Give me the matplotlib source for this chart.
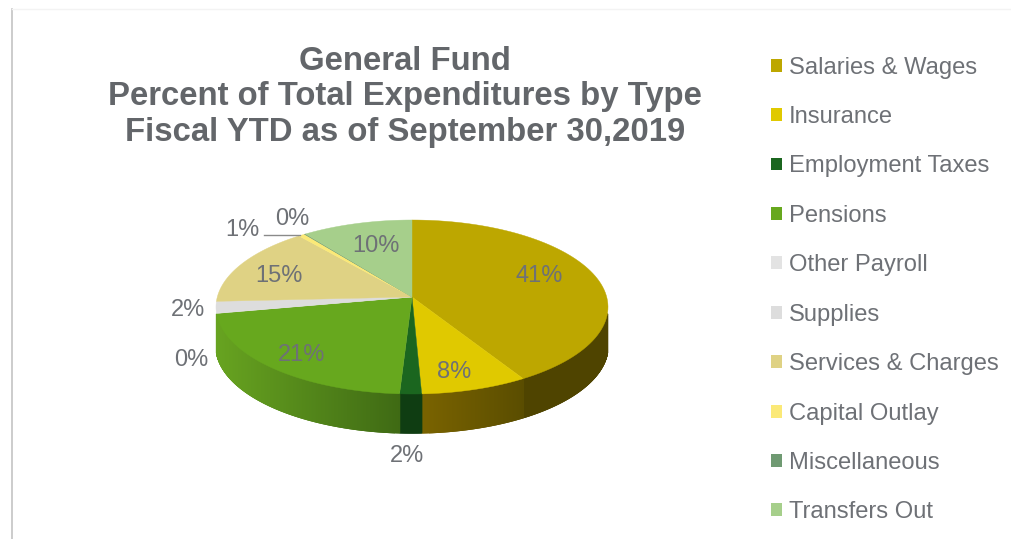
import numpy as np
import matplotlib
matplotlib.use('Agg')
import matplotlib.pyplot as plt
from matplotlib.patches import Patch

plt.rcParams['font.family'] = ['Liberation Sans', 'DejaVu Sans']

categories = ['Salaries & Wages', 'Insurance', 'Employment Taxes', 'Pensions', 'Other Payroll',
              'Supplies', 'Services & Charges', 'Capital Outlay', 'Miscellaneous', 'Transfers Out']
percent = [41.4, 7.9, 1.6, 21.1, 0.1, 2.1, 14.9, 0.6, 0.1, 10.2]
top_colors = ['#BDA700', '#E0C900', '#1B661F', '#67A81E', '#E3E3E3',
              '#DDDDDD', '#DFD284', '#FBE977', '#6F9A72', '#A6CF8B']
wall_left = ['#4F4400', '#7A6300', '#0F3D12', '#67A320', '#B0B0B0',
             '#B0B0B0', '#A09560', '#B0A050', '#4F7050', '#7A9A66']
wall_right = ['#4F4400', '#5A4D00', '#0F3D12', '#3F6A14', '#B0B0B0',
              '#B0B0B0', '#A09560', '#B0A050', '#4F7050', '#7A9A66']
label_pos = [(539, 276), (454, 372), (407, 456), (302, 355), (191, 360),
             (188, 310), (279, 276), (242, 230), (292, 219), (376, 246)]

text_color = '#6E7176'
title_lines = ['General Fund', 'Percent of Total Expenditures by Type', 'Fiscal YTD as of September 30,2019']
title_y = [62, 97, 132]

# pie plane seen in perspective
cx, cy = 412, 297
rx, ry, persp = 194.7, 85.85, 0.115
depth = 39


def rim(angle):
    u, v = np.sin(angle), np.cos(angle)
    w = 1 + persp * v
    return cx + rx * u / w, cy - ry * v / w


def hex_rgb(c):
    return np.array(matplotlib.colors.to_rgb(c))


fig = plt.figure(figsize=(10.11, 5.39), dpi=100)
ax = fig.add_axes([0, 0, 1, 1])
ax.set_xlim(0, 1011)
ax.set_ylim(539, 0)
ax.axis('off')

# page edges
ax.plot([11.5, 11.5], [9, 539], color='#C4C4C4', lw=1.2)
ax.plot([11.5, 1011], [9, 9], color='#F3F3F3', lw=1)

edges = np.cumsum([0] + percent) / sum(percent) * 2 * np.pi

# side wall, shaded strip by strip, then the top face over it
for i in range(len(percent)):
    ts = np.linspace(edges[i], edges[i + 1], max(int((edges[i + 1] - edges[i]) * 400), 2))
    ts = ts[np.cos(ts) <= -0.19]  # only the front of the rim shows
    if len(ts) < 2 or percent[i] < 0.5:
        continue
    xs, ys = rim(ts)
    # colour runs left to right on the front of the wedge
    lo, hi = xs.min(), xs.max()
    for j in range(len(ts) - 1):
        f = (0.5 * (xs[j] + xs[j + 1]) - lo) / max(hi - lo, 1)
        col = hex_rgb(wall_left[i]) * (1 - f) + hex_rgb(wall_right[i]) * f
        ax.fill([xs[j], xs[j + 1], xs[j + 1], xs[j]],
                [ys[j], ys[j + 1], ys[j + 1] + depth, ys[j] + depth],
                color=col, lw=1.0, zorder=2)

for i in range(len(percent)):
    ts = np.linspace(edges[i], edges[i + 1], 80)
    xs, ys = rim(ts)
    ax.fill(np.r_[cx, xs], np.r_[cy, ys], color=top_colors[i], lw=0.3, zorder=3)

# data labels
for val, (lx, ly) in zip(percent, label_pos):
    ax.text(lx, ly, f'{val:.0f}%', color=text_color, fontsize=17, ha='center', va='center', zorder=5)
ax.plot([264, 300], [235, 235], color='#8A8A8A', lw=1, zorder=4)

for line, y in zip(title_lines, title_y):
    ax.text(405, y, line, color='#63666A', fontsize=23.7, fontweight='bold', ha='center', va='center')

handles = [Patch(facecolor=c, edgecolor='none') for c in top_colors]
ax.legend(handles, categories, loc='center left', bbox_to_anchor=(771 / 1011, 1 - 290 / 539),
          frameon=False, fontsize=17.1, labelcolor=text_color, labelspacing=1.154,
          handlelength=0.46, handleheight=0.46, handletextpad=0.3, borderpad=0, borderaxespad=0)

fig.savefig('out.png', dpi=100, facecolor='white')
